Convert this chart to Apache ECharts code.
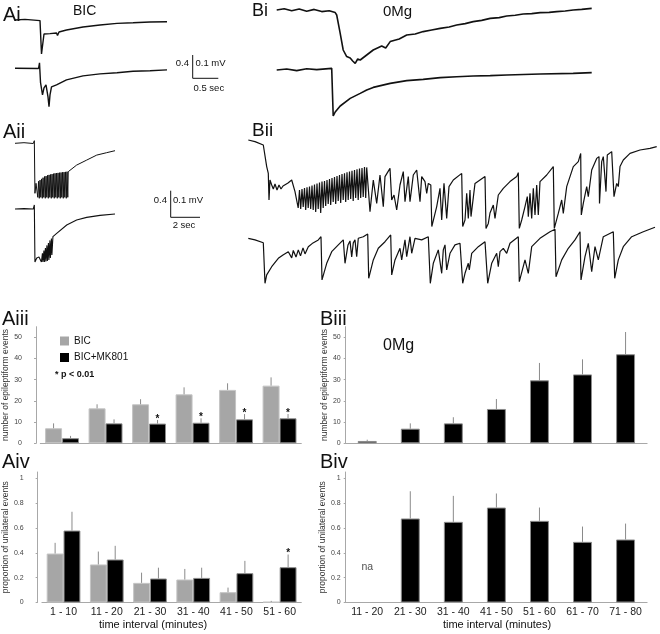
<!DOCTYPE html>
<html>
<head>
<meta charset="utf-8">
<title>BIC / 0Mg epileptiform activity</title>
<script src="https://cdn.jsdelivr.net/npm/echarts@6/dist/echarts.min.js"></script>
<style>
  html, body { margin: 0; padding: 0; background: #fff; }
  #chart { width: 660px; height: 634px; }
</style>
</head>
<body>
<div id="chart"></div>
<script>
// ---------- bar chart data ----------
const aCategories = ['1 - 10', '11 - 20', '21 - 30', '31 - 40', '41 - 50', '51 - 60'];
const bCategories = ['11 - 20', '21 - 30', '31 - 40', '41 - 50', '51 - 60', '61 - 70', '71 - 80'];

// Aiii: number of epileptiform events (mean, sem)
const aiiiBic = [7.1, 16.5, 18.4, 23.1, 25.2, 27.2];
const aiiiBicSem = [2.3, 1.9, 2.4, 3.3, 3.1, 3.9];
const aiiiMk = [2.4, 9.4, 9.3, 9.7, 11.3, 11.8];
const aiiiMkSem = [1.1, 1.9, 1.7, 2.1, 2.5, 2.0];
const aiiiStars = [0, 0, 1, 1, 1, 1];

// Aiv: proportion of unilateral events
const aivBic = [0.394, 0.306, 0.158, 0.185, 0.083, 0.005];
const aivBicSem = [0.086, 0.104, 0.082, 0.085, 0.037, 0.008];
const aivMk = [0.579, 0.346, 0.193, 0.198, 0.236, 0.284];
const aivMkSem = [0.151, 0.11, 0.087, 0.082, 0.099, 0.102];
const aivStars = [0, 0, 0, 0, 0, 1];

// Biii / Biv (0Mg)
const biii = [1.1, 6.9, 9.4, 16.2, 29.7, 32.5, 42.0];
const biiiSem = [0.6, 2.5, 2.9, 4.7, 8.2, 7.1, 10.5];
const biv = [null, 0.676, 0.649, 0.764, 0.657, 0.488, 0.507];
const bivSem = [null, 0.219, 0.209, 0.113, 0.107, 0.123, 0.128];

// ---------- traces: [time (s), mV from baseline] ----------
const aiTop = [[0,0],[0.2,0.003],[0.5,-0.003],[0.52,-0.008],[0.53,-0.17],[0.55,-0.13],[0.58,-0.07],[0.7,-0.068],
  [0.83,-0.065],[0.85,-0.078],[0.88,-0.06],[1.03,-0.05],[1.36,-0.035],[1.7,-0.025],[2.04,-0.017],[2.36,-0.014],
  [2.7,-0.01],[3.04,-0.009]];
const aiBottom = [[0,0],[0.47,-0.001],[0.49,0.027],[0.51,-0.07],[0.55,-0.133],[0.58,-0.098],[0.62,-0.083],
  [0.66,-0.143],[0.68,-0.192],[0.7,-0.133],[0.73,-0.093],[0.83,-0.083],[1.03,-0.058],[1.36,-0.038],[1.7,-0.028],
  [2.04,-0.022],[2.36,-0.015],[2.7,-0.012],[3.04,-0.008]];

const aiiTop = [[0,0],[0.6,0.003],[1.22,-0.001],[1.29,0.013],[1.33,-0.25],[1.4,-0.2],
  [1.47,-0.2],[1.52,-0.27],[1.57,-0.19],[1.62,-0.275],[1.67,-0.184],[1.72,-0.27],[1.77,-0.178],[1.82,-0.275],
  [1.87,-0.172],[1.92,-0.27],[1.97,-0.166],[2.02,-0.275],[2.07,-0.164],[2.12,-0.27],[2.17,-0.16],[2.22,-0.275],
  [2.27,-0.158],[2.32,-0.27],[2.37,-0.156],[2.42,-0.275],[2.47,-0.154],[2.52,-0.27],[2.57,-0.152],[2.62,-0.275],
  [2.67,-0.15],[2.72,-0.27],[2.77,-0.149],[2.82,-0.275],[2.87,-0.148],[2.92,-0.27],[2.97,-0.147],[3.02,-0.275],
  [3.07,-0.146],[3.12,-0.27],[3.17,-0.145],[3.22,-0.275],[3.27,-0.144],[3.32,-0.27],[3.37,-0.143],[3.42,-0.275],
  [3.47,-0.142],[3.52,-0.27],[3.55,-0.142],[4.11,-0.109],[4.78,-0.084],[5.45,-0.059],[6.11,-0.047],[6.67,-0.037]];
const aiiBottom = [[0,0],[0.6,0.002],[1.22,0],[1.29,0.02],[1.33,-0.265],[1.45,-0.245],[1.6,-0.24],
  [1.73,-0.235],[1.76,-0.265],[1.83,-0.222],[1.86,-0.265],[1.93,-0.208],[1.96,-0.265],[2.03,-0.195],[2.06,-0.262],
  [2.13,-0.182],[2.16,-0.26],[2.23,-0.17],[2.26,-0.255],[2.33,-0.157],[2.36,-0.245],[2.43,-0.148],[2.46,-0.23],
  [2.53,-0.138],[2.78,-0.122],[3.45,-0.08],[4.11,-0.055],[4.78,-0.042],[5.67,-0.032],[6.67,-0.025]];

const biTop = [[0,0],[0.15,0.006],[0.3,-0.004],[0.45,0.005],[0.6,-0.006],[0.75,0.003],[0.9,-0.008],[1.05,-0.004],
  [1.17,-0.013],[1.2,-0.025],[1.27,-0.117],[1.33,-0.2],[1.4,-0.233],[1.47,-0.24],[1.52,-0.255],[1.57,-0.267],
  [1.62,-0.245],[1.67,-0.25],[1.8,-0.225],[1.93,-0.2],[2.1,-0.18],[2.18,-0.19],[2.27,-0.158],[2.45,-0.145],
  [2.6,-0.125],[2.77,-0.12],[2.93,-0.108],[3.1,-0.1],[3.27,-0.092],[3.45,-0.085],[3.6,-0.075],[3.77,-0.068],
  [3.93,-0.058],[4.1,-0.052],[4.27,-0.042],[4.45,-0.038],[4.6,-0.03],[4.77,-0.026],[4.93,-0.02],[5.1,-0.018],
  [5.27,-0.013],[5.45,-0.012],[5.6,-0.008],[5.77,-0.005],[5.93,0],[6.1,0.003],[6.3,0.008]];
const biBottom = [[0,0],[0.2,0.005],[0.4,-0.003],[0.6,0.006],[0.8,0.002],[1.1,0.008],[1.12,0.015],[1.13,-0.23],
  [1.17,-0.21],[1.27,-0.18],[1.47,-0.142],[1.67,-0.117],[1.8,-0.1],[1.93,-0.087],[2.27,-0.067],[2.6,-0.053],
  [2.93,-0.047],[3.27,-0.038],[3.6,-0.034],[3.93,-0.03],[4.27,-0.028],[4.6,-0.025],[5.27,-0.02],[5.93,-0.017],
  [6.3,-0.013]];

const biiTop = [[0,0],[0.67,-0.008],[1.5,-0.025],[1.67,-0.033],[1.84,-0.133],[2.0,-0.167],[2.07,-0.3],[2.17,-0.2],
  [2.34,-0.225],[2.5,-0.245],[2.67,-0.22],[2.87,-0.25],[3.07,-0.225],[3.27,-0.245],[3.47,-0.23],[3.67,-0.235],
  [3.97,-0.215],[4.34,-0.2],[4.5,-0.197],[4.67,-0.258],
  [4.87,-0.255],[4.99,-0.34],[5.12,-0.25],[5.24,-0.345],[5.37,-0.245],[5.49,-0.335],[5.62,-0.24],[5.74,-0.35],
  [5.87,-0.237],[5.99,-0.34],[6.12,-0.233],[6.24,-0.345],[6.37,-0.228],[6.49,-0.35],[6.62,-0.223],[6.74,-0.36],
  [6.87,-0.218],[6.99,-0.345],[7.12,-0.213],[7.24,-0.365],[7.37,-0.208],[7.49,-0.34],[7.62,-0.205],[7.74,-0.33],
  [7.87,-0.2],[7.99,-0.32],[8.12,-0.195],[8.24,-0.325],[8.37,-0.19],[8.49,-0.31],[8.62,-0.185],[8.74,-0.32],
  [8.87,-0.18],[8.99,-0.305],[9.12,-0.175],[9.24,-0.315],[9.37,-0.17],[9.49,-0.3],[9.62,-0.166],[9.74,-0.31],
  [9.87,-0.162],[9.99,-0.3],[10.12,-0.158],[10.24,-0.295],[10.37,-0.154],[10.49,-0.305],[10.62,-0.15],[10.74,-0.29],
  [10.87,-0.146],[10.99,-0.3],[11.12,-0.142],[11.24,-0.29],[11.37,-0.14],[11.49,-0.285],[11.62,-0.135],[11.74,-0.29],
  [11.84,-0.137],[12.17,-0.358],[12.5,-0.2],[12.84,-0.317],[13.17,-0.175],[13.5,-0.333],[13.67,-0.183],[14.17,-0.142],
  [14.34,-0.3],[14.57,-0.275],[14.84,-0.35],[15.17,-0.225],[15.5,-0.158],[15.67,-0.308],[16.0,-0.183],[16.17,-0.308],
  [16.5,-0.175],[16.84,-0.15],[17.17,-0.308],[17.34,-0.183],[17.67,-0.208],[17.84,-0.267],[18.0,-0.217],[18.25,-0.225],
  [18.35,-0.433],[18.84,-0.333],[19.17,-0.242],[19.34,-0.4],[19.57,-0.217],[19.84,-0.392],[20.07,-0.233],[20.5,-0.2],
  [21.34,-0.167],[21.44,-0.433],[21.67,-0.4],[21.84,-0.267],[22.0,-0.392],[22.17,-0.25],[22.27,-0.383],[22.67,-0.217],
  [23.17,-0.2],[23.67,-0.183],[23.77,-0.442],[24.0,-0.417],[24.17,-0.365],[24.5,-0.325],[24.67,-0.392],[25.0,-0.275],
  [25.5,-0.242],[26.17,-0.208],[26.84,-0.183],[27.0,-0.163],[27.1,-0.442],[27.34,-0.4],[27.67,-0.333],[27.9,-0.283],
  [28.0,-0.383],[28.17,-0.267],[28.34,-0.392],[28.5,-0.242],[28.67,-0.375],[28.84,-0.225],[29.0,-0.375],[29.17,-0.208],
  [29.84,-0.175],[30.5,-0.133],[30.6,-0.442],[31.0,-0.367],[31.34,-0.3],[31.5,-0.367],[31.84,-0.233],[32.5,-0.133],
  [33.0,-0.108],[33.24,-0.067],[33.3,-0.375],[33.5,-0.317],[33.84,-0.233],[34.0,-0.283],[34.34,-0.15],[34.84,-0.092],
  [35.07,-0.083],[35.12,-0.317],[35.34,-0.108],[35.5,-0.083],[35.67,-0.083],[35.77,-0.258],[35.9,-0.075],[36.34,-0.058],
  [36.5,-0.05],[36.57,-0.283],[36.84,-0.217],[37.0,-0.233],[37.17,-0.133],[37.5,-0.1],[38.17,-0.067],[39.17,-0.05],
  [40.17,-0.042],[40.84,-0.033]];
const biiBottom = [[0,0],[0.67,-0.008],[1.5,-0.022],[1.67,-0.225],[1.84,-0.183],[2.34,-0.142],[3.0,-0.1],[3.47,-0.083],
  [4.0,-0.067],[4.34,-0.098],[4.5,-0.061],[4.77,-0.094],[5.0,-0.058],[5.22,-0.088],[5.47,-0.048],[5.67,-0.078],
  [6.0,-0.042],[6.47,-0.023],[7.0,-0.008],[7.27,0.008],[7.37,-0.208],[7.84,-0.125],[8.34,-0.067],[9.0,-0.033],
  [9.5,-0.008],[9.67,-0.125],[9.97,-0.033],[10.17,-0.013],[10.34,-0.093],[10.5,-0.023],[10.67,-0.008],[10.84,-0.092],
  [11.0,0],[11.5,0.008],[11.94,0.022],[12.04,-0.2],[12.5,-0.108],[13.0,-0.05],[13.67,-0.017],[14.24,0.017],
  [14.34,-0.183],[14.67,-0.108],[15.17,-0.05],[15.34,-0.108],[15.67,-0.008],[15.84,-0.092],[16.17,0.008],[16.34,-0.075],
  [16.67,0],[17.34,-0.008],[18.0,0.008],[18.2,-0.225],[18.5,-0.125],[19.0,-0.058],[19.34,-0.175],[19.5,-0.058],
  [19.67,-0.033],[19.84,-0.158],[20.17,-0.075],[20.67,-0.033],[21.17,-0.025],[21.34,-0.017],[21.44,-0.225],[21.67,-0.175],
  [22.0,-0.125],[22.1,-0.158],[22.34,-0.075],[23.0,-0.042],[23.67,-0.017],[23.84,-0.008],[23.94,-0.225],[24.34,-0.125],
  [24.84,-0.075],[25.0,-0.142],[25.17,-0.067],[25.5,-0.05],[25.84,-0.075],[26.17,-0.025],[27.0,0.008],[27.1,-0.217],
  [27.67,-0.108],[28.0,-0.175],[28.34,-0.042],[29.17,0],[30.17,0.033],[30.67,0.045],[30.77,-0.192],[31.34,-0.108],
  [32.0,-0.05],[32.67,-0.008],[33.17,0.033],[33.27,-0.208],[33.67,-0.092],[34.0,-0.025],[34.34,-0.167],[34.67,-0.042],
  [35.0,-0.108],[35.5,0.008],[36.5,0.033],[36.64,-0.2],[37.0,-0.108],[37.5,-0.042],[38.34,0.008],[39.5,0.033],
  [40.67,0.055]];

// ---------- chart ----------
const chart = echarts.init(document.getElementById('chart'));
const FONT = "'Liberation Sans', Arial, sans-serif";

const grids = [], xAxes = [], yAxes = [], series = [];

// one hidden-axis grid per trace
function addTrace(data, box, xMax, yMin, yMax, width) {
    const i = grids.length;
    grids.push({ left: box[0], top: box[1], width: box[2], height: box[3] });
    xAxes.push({ gridIndex: i, type: 'value', min: 0, max: xMax, show: false });
    yAxes.push({ gridIndex: i, type: 'value', min: yMin, max: yMax, show: false });
    series.push({
        type: 'line', xAxisIndex: i, yAxisIndex: i, data: data,
        showSymbol: false, silent: true,
        lineStyle: { color: '#111', width: width }
    });
}

addTrace(aiTop, [15, 8, 152, 64], 3.04, -0.26, 0.06, 1.4);
addTrace(aiBottom, [15, 56.3, 152, 64], 3.04, -0.26, 0.06, 1.4);
addTrace(aiiTop, [15, 137.3, 100, 66], 6.67, -0.30, 0.03, 1.0);
addTrace(aiiBottom, [15, 203, 100, 66], 6.67, -0.30, 0.03, 1.1);
addTrace(biTop, [276.7, 4, 315, 66], 6.3, -0.30, 0.03, 1.6);
addTrace(biBottom, [276.7, 64, 315, 66], 6.3, -0.30, 0.03, 1.6);
addTrace(biiTop, [248.3, 130, 408.4, 110], 40.84, -0.5, 0.05, 1.2);
addTrace(biiBottom, [248.3, 218.3, 408.4, 70], 40.84, -0.25, 0.1, 1.2);

// error bars (one-sided, from bar top) and significance stars
function errorSeries(idx, means, sems, stars, shift) {
    const data = [];
    means.forEach((m, i) => {
        if (m != null) data.push([i, m, sems[i], stars ? stars[i] : 0]);
    });
    return {
        type: 'custom', xAxisIndex: idx, yAxisIndex: idx, silent: true, z: 5,
        data: data,
        renderItem(params, api) {
            const base = api.coord([api.value(0), api.value(1)]);
            const top = api.coord([api.value(0), api.value(1) + api.value(2)]);
            const x = base[0] + api.size([1, 0])[0] * shift;
            const children = [{
                type: 'line',
                shape: { x1: x, y1: base[1], x2: x, y2: top[1] },
                style: { stroke: '#8a8a8a', lineWidth: 1 }
            }];
            if (api.value(3)) {
                children.push({
                    type: 'text',
                    style: { text: '*', x: x, y: top[1] - 1, align: 'center', verticalAlign: 'middle',
                        font: 'bold 10px ' + FONT, fill: '#111' }
                });
            }
            return { type: 'group', children: children };
        }
    };
}

function addBarGrid(box, cats, yMax, ticks, yName, showX, labelMargin, nameGap, offset) {
    const i = grids.length;
    grids.push({ left: box[0], top: box[1], width: box[2], height: box[3] });
    xAxes.push({
        gridIndex: i, type: 'category', data: cats,
        axisLine: { lineStyle: { color: '#a8a8a8' } },
        axisTick: { show: false },
        axisLabel: { show: showX, color: '#222', fontSize: 10.5, fontFamily: FONT, margin: 4, interval: 0 }
    });
    yAxes.push({
        gridIndex: i, type: 'value', min: 0, max: yMax, offset: offset,
        name: yName, nameLocation: 'middle', nameRotate: 90, nameGap: nameGap,
        nameTextStyle: { color: '#333', fontSize: 8.5, fontFamily: FONT },
        axisLine: { show: true, lineStyle: { color: '#a8a8a8' } },
        axisTick: { show: true, length: 2, customValues: ticks, lineStyle: { color: '#a8a8a8' } },
        axisLabel: { color: '#444', fontSize: 7, fontFamily: FONT, margin: labelMargin, customValues: ticks },
        splitLine: { show: false }
    });
    return i;
}

const countTicks = [0, 10, 20, 30, 40, 50];
const propTicks = [0, 0.2, 0.4, 0.6, 0.8, 1];

const gAiii = addBarGrid([40.3, 326.7, 261, 116.6], aCategories, 55, countTicks,
    'number of epileptiform events', false, 14, 24, 4.3);
const gAiv = addBarGrid([40.3, 472, 261, 130.5], aCategories, 1.05, propTicks,
    'proportion of unilateral events', true, 14, 24, 4.3);
const gBiii = addBarGrid([345.7, 326.7, 301.4, 116.6], bCategories, 55, countTicks,
    'number of epileptiform events', false, 5, 14, 0);
const gBiv = addBarGrid([345.7, 472, 301.4, 130.5], bCategories, 1.05, propTicks,
    'proportion of unilateral events', true, 5, 14, 0);

const grayBar = { color: '#a6a6a6', borderColor: '#c4c4c4', borderWidth: 1 };
const blackBar = { color: '#000', borderColor: '#8c8c8c', borderWidth: 1 };

[[gAiii, aiiiBic, aiiiMk], [gAiv, aivBic, aivMk]].forEach(([g, bic, mk]) => {
    series.push({ name: 'BIC', type: 'bar', xAxisIndex: g, yAxisIndex: g, data: bic,
        barWidth: '39%', barGap: '0%', itemStyle: grayBar, silent: true });
    series.push({ name: 'BIC+MK801', type: 'bar', xAxisIndex: g, yAxisIndex: g, data: mk,
        barWidth: '39%', barGap: '0%', itemStyle: blackBar, silent: true });
});
series.push(errorSeries(gAiii, aiiiBic, aiiiBicSem, null, -0.195));
series.push(errorSeries(gAiii, aiiiMk, aiiiMkSem, aiiiStars, 0.195));
series.push(errorSeries(gAiv, aivBic, aivBicSem, null, -0.195));
series.push(errorSeries(gAiv, aivMk, aivMkSem, aivStars, 0.195));

series.push({ name: '0Mg', type: 'bar', xAxisIndex: gBiii, yAxisIndex: gBiii, data: biii,
    barWidth: '44%', itemStyle: blackBar, silent: true });
series.push({ name: '0Mg', type: 'bar', xAxisIndex: gBiv, yAxisIndex: gBiv, data: biv,
    barWidth: '44%', itemStyle: blackBar, silent: true });
series.push(errorSeries(gBiii, biii, biiiSem, null, 0));
series.push(errorSeries(gBiv, biv, bivSem, null, 0));

// "na" for the first 0Mg interval
series.push({
    type: 'scatter', xAxisIndex: gBiv, yAxisIndex: gBiv, data: [[0, 0.285]],
    symbolSize: 0, silent: true,
    label: { show: true, position: 'inside', formatter: 'na', color: '#222', fontSize: 10.5, fontFamily: FONT }
});

// texts and scale bars
function txt(text, x, y, size, align, weight) {
    return {
        type: 'text', x: x, y: y, silent: true,
        style: { text: text, font: (weight || 'normal') + ' ' + size + 'px ' + FONT, fill: '#111',
            align: align || 'left', verticalAlign: 'middle' }
    };
}
function bar(x1, y1, x2, y2) {
    return { type: 'line', silent: true, shape: { x1: x1, y1: y1, x2: x2, y2: y2 },
        style: { stroke: '#111', lineWidth: 1 } };
}

const graphics = [
    txt('Ai', 3, 15, 20), txt('Aii', 3, 132, 20), txt('Bi', 252, 11, 18), txt('Bii', 252, 131, 19),
    txt('Aiii', 2, 319, 20), txt('Aiv', 2, 462, 20), txt('Biii', 320, 319, 20), txt('Biv', 320, 462, 20),
    txt('BIC', 73, 11, 14), txt('0Mg', 383, 12, 15), txt('0Mg', 383, 346, 16),
    txt('* p < 0.01', 55, 375, 9, 'left', 'bold'),
    txt('time interval (minutes)', 153, 625, 11, 'center'),
    txt('time interval (minutes)', 497, 625, 11, 'center'),
    // Ai scale bar
    bar(192.7, 55, 192.7, 78.3), bar(192.7, 78.3, 218.3, 78.3),
    txt('0.4', 189, 63.5, 9.5, 'right'), txt('0.1 mV', 195.5, 63.5, 9.5), txt('0.5 sec', 193.5, 88.5, 9.5),
    // Aii scale bar
    bar(170.7, 190.7, 170.7, 217.3), bar(170.7, 217.3, 200, 217.3),
    txt('0.4', 167, 200.7, 9.5, 'right'), txt('0.1 mV', 173, 200.7, 9.5), txt('2 sec', 184, 225.7, 9.5, 'center')
];

chart.setOption({
    animation: false,
    backgroundColor: '#fff',
    textStyle: { fontFamily: FONT },
    legend: {
        data: ['BIC', 'BIC+MK801'], orient: 'vertical', left: 55, top: 331,
        icon: 'rect', itemWidth: 9, itemHeight: 9, itemGap: 6.5,
        itemStyle: { borderWidth: 0 },
        textStyle: { fontSize: 10, color: '#111', fontFamily: FONT }, selectedMode: false
    },
    grid: grids,
    xAxis: xAxes,
    yAxis: yAxes,
    series: series,
    graphic: graphics
});
</script>
</body>
</html>
